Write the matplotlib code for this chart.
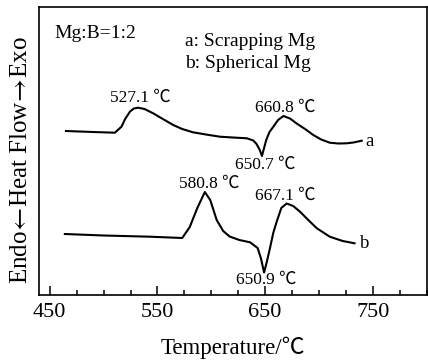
import matplotlib
matplotlib.use("Agg")
import matplotlib.pyplot as plt
from matplotlib.ticker import MultipleLocator

FONT = ['Liberation Serif', 'Noto Sans CJK SC', 'DejaVu Serif']
plt.rcParams['font.family'] = FONT
plt.rcParams['mathtext.fontset'] = 'stix'

# Curve a: Scrapping Mg (temperature, heat flow in arbitrary units)
temp_a = [465, 490, 510.4, 516.6, 520, 524.4, 528, 532, 538, 546, 555, 564.6, 573, 583,
          595, 608, 620, 633, 639, 642, 645, 647, 649, 651, 654, 657.6, 662, 667, 673,
          679, 687, 694.7, 702, 710, 718, 725.7, 732, 739.7]
hf_a = [164, 163, 162.3, 168.3, 176, 183.3, 186.5, 187.3, 186, 181.7, 176, 170, 166, 162.7,
        160.5, 158.3, 157.5, 156.7, 154.5, 151, 145, 139, 147, 155, 163, 168.3, 175, 179,
        176.5, 171.7, 166, 160, 155.5, 152.3, 151.5, 151.7, 152.5, 154.3]

# Curve b: Spherical Mg
temp_b = [464, 500, 543, 573, 580, 587, 594, 599, 605, 611, 617, 626, 636, 643, 646, 649,
          651.5, 654.5, 657.5, 660.7, 665, 670, 676, 682.4, 690, 698, 710, 722, 733]
hf_b = [61, 59.5, 58.3, 57, 68, 87, 103, 95, 75, 64, 58.5, 55, 52.7, 47, 37, 22.5,
        33, 47, 62, 73.3, 87, 91.5, 89, 83.3, 75, 66.7, 58.3, 54, 51.7]

# Peak annotations: (text, temperature, heat flow)
peak_labels = ["527.1 ℃", "660.8 ℃", "650.7 ℃", "580.8 ℃", "667.1 ℃", "650.9 ℃"]
peak_x = [533.7, 668.5, 650.0, 598.0, 668.5, 650.8]
peak_y = [197, 187, 130, 111.7, 99.3, 15]

xticks = [450, 550, 650, 750]

fig = plt.figure(figsize=(4.28, 3.61), dpi=100)
ax = fig.add_axes([39/428, 66/361, 387.7/428, 288/361])

ax.plot(temp_a, hf_a, color='black', lw=1.5)
ax.plot(temp_b, hf_b, color='black', lw=1.5)

ax.set_xlim(440, 800)
ax.set_ylim(0, 288)
ax.set_xticks(xticks)
ax.xaxis.set_minor_locator(MultipleLocator(25))
ax.set_yticks([])
ax.tick_params(axis='x', which='major', direction='in', length=6.5, width=1.1,
               labelsize=16, pad=6, top=False)
ax.tick_params(axis='x', which='minor', direction='in', length=3.6, width=1.1, top=False)
for s in ax.spines.values():
    s.set_linewidth(1.2)

for t, x, y in zip(peak_labels, peak_x, peak_y):
    ax.text(x, y, t, ha='center', va='center', fontsize=12.5, family=FONT)

ax.text(454.6, 262, "Mg:B=1:2", ha='left', va='center', fontsize=14, family=FONT)
ax.text(575.5, 254, "a: Scrapping Mg", ha='left', va='center', fontsize=14, family=FONT)
ax.text(575.5, 232, "b: Spherical Mg", ha='left', va='center', fontsize=14, family=FONT)
ax.text(742.8, 153, "a", ha='left', va='center', fontsize=13.5, family=FONT)
ax.text(738.2, 52, "b", ha='left', va='center', fontsize=13.5, family=FONT)

ax.set_xlabel("Temperature/℃", fontsize=16.5, family=FONT)
ax.xaxis.set_label_coords(0.5, -0.145)
ax.set_ylabel(r"Endo$\!\leftarrow\!$Heat Flow$\!\rightarrow\!$Exo", fontsize=18, family=FONT)
ax.yaxis.set_label_coords(-0.018, 0.469)

fig.savefig("out.png", dpi=100)
